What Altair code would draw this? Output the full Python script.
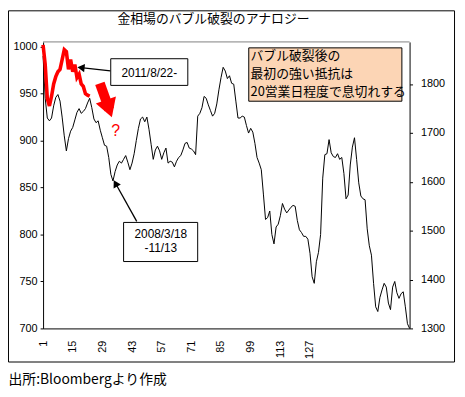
import altair as alt
import pandas as pd

# 2008/3/18-11/13 gold (left axis)
black_values = [
    990, 945, 924, 921, 924, 937, 946, 949, 942, 925,
    905, 889, 902, 910, 914, 922, 930, 934, 929, 931,
    934, 940, 945, 935, 923, 919, 921, 911, 903, 895,
    894, 882, 864, 857, 867, 874, 878, 876, 880, 884,
    877, 869, 876, 886, 900, 913, 923, 925, 920, 925,
    912, 896, 880, 890, 894, 889, 880, 887, 892, 876,
    878, 877, 872, 878, 882, 884, 890, 897, 898, 892,
    891, 889, 885, 926, 929, 935, 947, 945, 938, 932,
    926, 929, 939, 954, 967, 978, 974, 966, 969, 961,
    960, 942, 924, 924, 926, 925, 916, 908, 913, 909,
    897, 882, 876, 869, 843, 816, 818, 825, 800, 790,
    808, 811, 820, 833, 827, 823, 826, 829, 831, 830,
    815, 805, 802, 798, 798, 795, 780, 755, 748, 771,
    781, 800, 860, 885, 886, 901, 887, 883, 882, 886,
    880, 882, 865, 838, 842, 874, 893, 903, 880, 855,
    841, 838, 837, 806, 788, 778, 748, 723, 718, 733,
    741, 748, 744, 727, 720, 744, 750, 738, 732, 737,
    739, 723, 705, 700,
]
# 2011/8/22- gold (right axis)
red_values = [
    1880, 1840, 1770, 1755, 1775, 1800, 1815, 1825, 1830, 1850,
    1870, 1866, 1830, 1850, 1825, 1840, 1813, 1820, 1800, 1795,
    1780, 1777, 1775,
]
x_ticks = [1, 15, 29, 43, 57, 71, 85, 99, 113, 127]
left_ticks = [700, 750, 800, 850, 900, 950, 1000]
right_ticks = [1300, 1400, 1500, 1600, 1700, 1800]

title_text = "金相場のバブル破裂のアナロジー"
label_2011 = "2011/8/22-"
label_2008 = ["2008/3/18", "-11/13"]
note_lines = ["バブル破裂後の", "最初の強い抵抗は", "20営業日程度で息切れする"]
source_text = "出所:Bloombergより作成"

W, H = 371, 290
JP = "Noto Sans CJK JP"
NUM = "Liberation Sans"

black_df = pd.DataFrame({"day": list(range(1, len(black_values) + 1)), "v": black_values})
red_df = pd.DataFrame({"day": list(range(1, len(red_values) + 1)), "v": red_values})
one = alt.Data(values=[{"a": 1}])

x_axis = alt.Axis(values=x_ticks, labelAngle=270, ticks=False, domainColor="black",
                  labelPadding=12, labelFont=NUM, labelFontSize=11, labelColor="black",
                  grid=False, title=None)
x_enc = alt.X("day:Q", scale=alt.Scale(domain=[1, 174], nice=False, zero=False), axis=x_axis)

black_line = alt.Chart(black_df).mark_line(color="black", strokeWidth=1).encode(
    x=x_enc,
    y=alt.Y("v:Q", scale=alt.Scale(domain=[700, 1005], nice=False, zero=False),
            axis=alt.Axis(orient="left", values=left_ticks, format="d", tickSize=3,
                          tickColor="black", domainColor="black", labelPadding=3,
                          labelFont=NUM, labelFontSize=11, labelColor="black",
                          grid=False, title=None)),
)
red_line = alt.Chart(red_df).mark_line(color="#FF0000", strokeWidth=3.6).encode(
    x=x_enc,
    y=alt.Y("v:Q", scale=alt.Scale(domain=[1300, 1886], nice=False, zero=False),
            axis=alt.Axis(orient="right", values=right_ticks, format="d", tickSize=3,
                          tickColor="black", domainColor="black", labelPadding=8,
                          labelFont=NUM, labelFontSize=11, labelColor="black",
                          grid=False, title=None)),
)

def box(x1, x2, y1, y2, fill):
    return alt.Chart(one).mark_rect(fill=fill, stroke="black", strokeWidth=1).encode(
        x=alt.value(x1), x2=alt.value(x2), y=alt.value(y1), y2=alt.value(y2))

def txt(t, x, y, size, font=JP, color="black", align="center"):
    return alt.Chart(one).mark_text(text=t, font=font, fontSize=size, color=color,
                                    align=align, baseline="middle").encode(
        x=alt.value(x), y=alt.value(y))

def seg(x1, y1, x2, y2, color="black", w=1.3):
    return alt.Chart(one).mark_rule(color=color, strokeWidth=w, strokeCap="butt").encode(
        x=alt.value(x1), y=alt.value(y1), x2=alt.value(x2), y2=alt.value(y2))

def head(x, y, shape, angle, size=70, color="black"):
    return alt.Chart(one).mark_point(shape=shape, filled=True, color=color, size=size,
                                     angle=angle, opacity=1, strokeWidth=0).encode(
        x=alt.value(x), y=alt.value(y))

frame = alt.Chart(one).mark_rect(fillOpacity=0, stroke="black", strokeWidth=1).encode(
    x=alt.value(-35), x2=alt.value(416.5), y=alt.value(-31.5), y2=alt.value(324))
top_rule = seg(0, 0, W, 0, color="#808080", w=1)

layers = [
    black_line,
    red_line,
    top_rule,
    frame,
    txt(title_text, 172.5, -23, 13),
    # 2011 label + arrow
    seg(68.2, 29.3, 38.4, 26.1),
    head(38.4, 26.1, "triangle-left", 6),
    box(68.5, 146.5, 17, 44, "white"),
    txt(label_2011, 107.5, 31, 12, font=NUM),
    # 2008 label + arrow
    seg(94.8, 181.7, 73.3, 143.1),
    head(73.3, 143.1, "triangle-up", 331),
    box(81.5, 156.5, 182.7, 222.3, "white"),
    txt(label_2008[0], 119.2, 194, 12, font=NUM),
    txt(label_2008[1], 119.2, 209, 12, font=NUM),
    # note box
    box(208.2, 363.2, 6, 60, "#FCD5B5"),
    txt(note_lines[0], 210, 14, 13, align="left"),
    txt(note_lines[1], 210, 32.5, 13, align="left"),
    txt(note_lines[2], 210, 50.5, 13, align="left"),
    # red block arrow and question mark
    seg(57.5, 42, 67, 68.5, color="#FF0000", w=10),
    head(66.6, 67.5, "triangle-down", 341, size=460, color="#FF0000"),
    txt("?", 73.5, 90, 16, font=NUM, color="#FF0000"),
    # source
    txt(source_text, -35, 342, 14, align="left"),
]

chart = alt.layer(*layers).resolve_scale(y="independent").properties(
    width=W, height=H,
    padding={"left": 35.5, "top": 32, "right": 48, "bottom": 62},
    autosize=alt.AutoSizeParams(type="none"),
    background="white",
).configure_view(stroke="transparent")

chart.save("out.html", embed_options={"renderer": "svg", "actions": False})
